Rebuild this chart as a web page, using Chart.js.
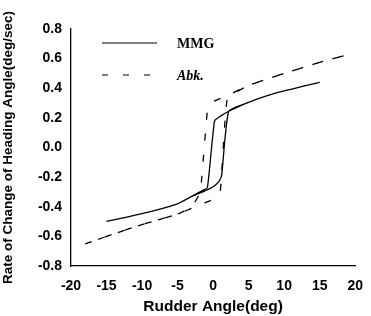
<!DOCTYPE html>
<html>
<head>
<meta charset="utf-8">
<script src="https://cdn.jsdelivr.net/npm/chart.js@4"></script>
<style>
  html, body { margin: 0; padding: 0; background: #fff; }
  #box { width: 371px; height: 316px; }
</style>
</head>
<body>
<div id="box"><canvas id="grafico"></canvas></div>
<script>
// MMG loop: increasing rudder branch, then decreasing branch back
const mmgX = [-15, -10, -5, -3, -1, 0, 0.8, 1.2, 2.2, 5, 9, 15, 9, 5, 2.2, 1, 0.2, -0.8, -1.5, -3, -5, -10, -15];
const mmgY = [-0.50, -0.447, -0.38, -0.33, -0.29, -0.265, -0.23, -0.19, 0.245, 0.305, 0.37, 0.44, 0.37, 0.305, 0.245, 0.21, 0.18, -0.27, -0.29, -0.33, -0.38, -0.447, -0.50];

// Abk. loop
const abkX = [-18, -15, -10, -5, -1, 0, 1, 2, 5, 10, 15, 19, 15, 10, 5, 2, 0, -0.8, -1.8, -3, -5, -10, -15, -18];
const abkY = [-0.65, -0.60, -0.52, -0.45, -0.37, -0.35, -0.30, 0.33, 0.42, 0.50, 0.575, 0.627, 0.575, 0.50, 0.42, 0.35, 0.31, 0.25, -0.30, -0.40, -0.45, -0.52, -0.60, -0.65];

const xTicks = [-20, -15, -10, -5, 0, 5, 10, 15, 20];
const yTicks = [-0.8, -0.6, -0.4, -0.2, 0.0, 0.2, 0.4, 0.6, 0.8];

const toPoints = (xs, ys) => xs.map((x, i) => ({ x: x, y: ys[i] }));

// Legend drawn inside the plot area, top-left
const legendInside = {
    id: 'legendInside',
    afterDraw(chart) {
        const ctx = chart.ctx;
        const area = chart.chartArea;
        const rows = [
            { dash: [], font: 'bold 14px "Liberation Serif"', y: 43 },
            { dash: [6, 15], font: 'italic bold 14px "Liberation Serif"', y: 75 }
        ];
        chart.data.datasets.forEach((ds, i) => {
            const r = rows[i];
            ctx.save();
            ctx.strokeStyle = '#000';
            ctx.lineWidth = 1.2;
            ctx.setLineDash(r.dash);
            ctx.beginPath();
            ctx.moveTo(area.left + 31, r.y);
            ctx.lineTo(area.left + 86, r.y);
            ctx.stroke();
            ctx.setLineDash([]);
            ctx.fillStyle = '#000';
            ctx.font = r.font;
            ctx.textBaseline = 'middle';
            ctx.fillText(ds.label, area.left + 106, r.y + 1);
            ctx.restore();
        });
    }
};

const contexto = document.getElementById('grafico');
new Chart(contexto, {
    type: 'scatter',
    data: {
        datasets: [
            {
                label: 'MMG',
                data: toPoints(mmgX, mmgY),
                showLine: true,
                borderColor: '#000',
                borderWidth: 1.3,
                pointRadius: 0,
                tension: 0.15
            },
            {
                label: 'Abk.',
                data: toPoints(abkX, abkY),
                showLine: true,
                borderColor: '#000',
                borderWidth: 1.3,
                borderDash: [7, 14],
                pointRadius: 0,
                tension: 0.1
            }
        ]
    },
    options: {
        responsive: true,
        maintainAspectRatio: false,
        animation: false,
        layout: { padding: { top: 29, right: 13, left: 0, bottom: 0 } },
        plugins: {
            legend: { display: false },
            tooltip: { enabled: false }
        },
        scales: {
            x: {
                type: 'linear',
                min: -20,
                max: 20,
                afterBuildTicks: axis => { axis.ticks = xTicks.map(v => ({ value: v })); },
                afterFit: axis => { axis.height = 50; },
                grid: { display: false, drawTicks: true, tickLength: 4, color: '#000' },
                border: { display: true, color: '#000', width: 1.3 },
                ticks: {
                    color: '#000',
                    font: { family: 'Liberation Sans', weight: 'bold', size: 14 },
                    padding: 8,
                    maxRotation: 0
                },
                title: {
                    display: true,
                    text: 'Rudder Angle(deg)',
                    color: '#000',
                    font: { family: 'Liberation Sans', weight: 'bold', size: 15.5 },
                    padding: { top: 0, bottom: 0 }
                }
            },
            y: {
                type: 'linear',
                min: -0.8,
                max: 0.8,
                afterBuildTicks: axis => { axis.ticks = yTicks.map(v => ({ value: v })); },
                afterFit: axis => { axis.width = 71; },
                grid: { display: false, drawTicks: true, tickLength: 4, color: '#000' },
                border: { display: true, color: '#000', width: 1.3 },
                ticks: {
                    color: '#000',
                    font: { family: 'Liberation Sans', weight: 'bold', size: 14 },
                    padding: 5,
                    callback: v => v.toFixed(1)
                },
                title: {
                    display: true,
                    text: 'Rate of Change of Heading Angle(deg/sec)',
                    color: '#000',
                    font: { family: 'Liberation Sans', weight: 'bold', size: 13.5 },
                    padding: { top: 0, bottom: 0 }
                }
            }
        }
    },
    plugins: [legendInside]
});
</script>
</body>
</html>
